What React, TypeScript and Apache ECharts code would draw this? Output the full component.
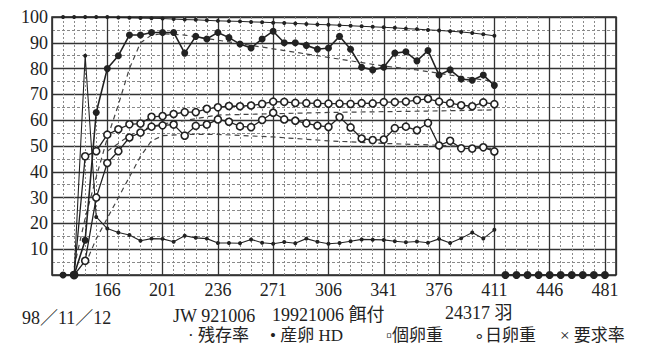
import React, { useEffect, useRef } from "react";
import * as echarts from "echarts";

// weekly ages (days)
const weekDays = [138,145,152,159,166,173,180,187,194,201,208,215,222,229,236,243,250,257,264,271,278,285,292,299,306,313,320,327,334,341,348,355,362,369,376,383,390,397,404,411];
// 残存率
const survival = [100,100,100,100,100,99.8,99.7,99.6,99.5,99.4,99.2,99,98.9,98.7,98.5,98.4,98.3,98.1,98,97.8,97.7,97.5,97.3,97.1,97,96.8,96.6,96.4,96.2,96,95.8,95.5,95.3,95,94.8,94.5,94.2,93.8,93.3,92.7];
// 産卵 HD
const henDay = [0,0,13.5,63,80,85,93,93,94,94,94,86,92.5,91.5,94,92,89.5,88,91.5,94.5,90,90,89,87.5,88,92.5,87.5,80.5,79.5,80.5,86,86.5,83,87,77.5,79.5,76,75.5,77.5,73.5];
// 個卵重
const eggWeight = [null,0,46,48,54.4,56.5,58.4,58.7,61.3,61.6,62.4,63.1,63.1,64.4,65,65.5,65.4,65.7,66.3,67.2,67.1,66.7,66.6,66.5,66.4,66.4,66.3,66.6,66.5,67,67,67.2,67.8,68.3,67.2,66.6,65.8,65.4,66.9,66.2];
// 日卵重
const eggMass = [null,0,5.5,30,43.4,48,53.3,55.2,57.5,58,58.3,54,57.8,58.3,60.3,59.4,57.6,57.3,60.1,62.9,60.3,59.8,58.8,57.9,57.4,61.2,57.2,52.9,52.3,52.5,56.9,57.5,56.1,58.9,50.2,52,49.1,49,49.5,47.9];
// 要求率
const feedRatio = [null,0,85,22.5,18,16.5,15.5,13.3,14.1,14,12.9,15.2,14.4,14.1,12.4,12.4,12.3,13.8,12.5,12.1,12.8,12.3,14.1,12.9,12.1,12.4,13.1,13.8,13.7,13.6,13.1,12.7,13,12.5,14,12.4,14.2,16.5,14.1,17.5];

// after depopulation
const postDays = [418,425,432,439,446,453,460,467,474,481];
const postValues = [0,0,0,0,0,0,0,0,0,0];

// standard curves (dashed)
const hdStdDays = [145,152,159,166,173,180,187,194,201,215,236,257,278,299,320,341,362,383,411];
const hdStd = [3,22,38,53,66,80,90,93,93.5,93,91,89,87,85,83,81,79.5,77.5,75];
const eggWtStdDays = [166,173,180,187,194,201,236,271,306,341,376,411];
const eggWtStd = [48,51,54,56,57.5,58.5,62,62.5,63,63.3,63.6,64];
const massStdDays = [152,159,166,173,180,187,194,201,215,236,271,306,341,376,411];
const massStd = [4,14,22,30,38,46,52,54,54.5,54.5,53.5,52,51,50.3,49];

const xMin = 131;
const xMax = 488;
const yTicks = [0,10,20,30,40,50,60,70,80,90,100];

const pairs = (days: number[], vals: (number | null)[]) =>
  days.map((d, i) => [d, vals[i]]).filter((p) => p[1] !== null);

const serif = '"Liberation Serif", "DejaVu Serif", serif';
const mixed = '"Liberation Serif", "Noto Sans CJK JP", serif';
const ink = "#222";

export default function App() {
  const ref = useRef<HTMLDivElement>(null);
  useEffect(() => {
    if (!ref.current) return;
    const chart = echarts.init(ref.current, null, { renderer: "svg" });
    const lineBase = { type: "line", xAxisIndex: 1, yAxisIndex: 0, z: 5 };
    const openCircle = {
      symbol: "circle",
      symbolSize: 7,
      itemStyle: { color: "#fff", borderColor: ink, borderWidth: 1.6 },
      lineStyle: { color: ink, width: 1.3 },
    };
    const dashed = {
      ...lineBase,
      showSymbol: false,
      symbol: "none",
      lineStyle: { color: "#444", width: 1.2, type: [5, 4] },
      z: 4,
    };
    const option = {
      animation: false,
      backgroundColor: "#fff",
      grid: {
        left: 52,
        right: 29,
        top: 17,
        bottom: 69,
        show: true,
        borderColor: ink,
        borderWidth: 1.5,
      },
      xAxis: [
        {
          type: "value",
          position: "bottom",
          min: xMin,
          max: xMax,
          interval: 7,
          axisLine: { show: false },
          axisTick: { show: false },
          axisLabel: { show: false },
          splitLine: { show: true, lineStyle: { color: "#8a8a8a", width: 1, type: [2, 2] } },
        },
        {
          type: "value",
          position: "bottom",
          min: xMin,
          max: xMax,
          interval: 35,
          axisLine: { show: false },
          axisTick: { show: false },
          axisLabel: {
            formatter: (v: number) => (v === xMin || v === xMax ? "" : String(v)),
            fontSize: 18,
            fontFamily: serif,
            color: ink,
            margin: 6,
          },
          splitLine: { show: true, lineStyle: { color: "#333", width: 1.3 } },
        },
      ],
      yAxis: [
        {
          type: "value",
          min: yTicks[0],
          max: yTicks[yTicks.length - 1],
          interval: 10,
          axisLine: { show: false },
          axisTick: { show: false },
          axisLabel: {
            formatter: (v: number) => (v === 0 ? "" : String(v)),
            fontSize: 18,
            fontFamily: serif,
            color: ink,
            margin: 4,
          },
          splitLine: { show: true, lineStyle: { color: "#333", width: 1.3 } },
          minorTick: { show: false, splitNumber: 2 },
          minorSplitLine: { show: true, lineStyle: { color: "#8a8a8a", width: 1, type: [3, 2] } },
        },
      ],
      series: [
        { ...dashed, name: "HD標準", data: pairs(hdStdDays, hdStd) },
        { ...dashed, name: "個卵重標準", data: pairs(eggWtStdDays, eggWtStd) },
        { ...dashed, name: "日卵重標準", data: pairs(massStdDays, massStd) },
        {
          ...lineBase,
          name: "残存率",
          data: pairs(weekDays, survival),
          symbol: "circle",
          symbolSize: 4,
          itemStyle: { color: ink },
          lineStyle: { color: ink, width: 1 },
        },
        {
          ...lineBase,
          name: "要求率",
          data: pairs(weekDays, feedRatio),
          symbol: "circle",
          symbolSize: 4,
          itemStyle: { color: ink },
          lineStyle: { color: ink, width: 1.1 },
        },
        { ...lineBase, ...openCircle, name: "個卵重", data: pairs(weekDays, eggWeight) },
        { ...lineBase, ...openCircle, name: "日卵重", data: pairs(weekDays, eggMass) },
        {
          ...lineBase,
          name: "産卵 HD",
          data: pairs(weekDays, henDay),
          symbol: "circle",
          symbolSize: 7,
          itemStyle: { color: ink },
          lineStyle: { color: ink, width: 1.6 },
          z: 6,
        },
        {
          ...lineBase,
          name: "産卵 HD後",
          data: pairs(postDays, postValues),
          symbol: "circle",
          symbolSize: 8,
          itemStyle: { color: ink },
          lineStyle: { color: ink, width: 1.5 },
          z: 6,
        },
      ],
      graphic: [
        { type: "text", x: 22, y: 318, style: { text: "98／11／12", font: `18px ${mixed}`, fill: ink, verticalAlign: "middle" } },
        { type: "text", x: 173, y: 316, style: { text: "JW 921006", font: `18px ${mixed}`, fill: ink, verticalAlign: "middle" } },
        { type: "text", x: 272, y: 315, style: { text: "19921006 餌付", font: `18px ${mixed}`, fill: ink, verticalAlign: "middle" } },
        { type: "text", x: 445, y: 313, style: { text: "24317 羽", font: `18px ${mixed}`, fill: ink, verticalAlign: "middle" } },
        { type: "text", x: 188, y: 335, style: { text: "· 残存率", font: `17px ${mixed}`, fill: ink, verticalAlign: "middle" } },
        { type: "text", x: 270, y: 335, style: { text: "• 産卵 HD", font: `17px ${mixed}`, fill: ink, verticalAlign: "middle" } },
        { type: "text", x: 386, y: 335, style: { text: "▫個卵重", font: `17px ${mixed}`, fill: ink, verticalAlign: "middle" } },
        { type: "text", x: 474, y: 335, style: { text: "∘日卵重", font: `17px ${mixed}`, fill: ink, verticalAlign: "middle" } },
        { type: "text", x: 560, y: 335, style: { text: "× 要求率", font: `17px ${mixed}`, fill: ink, verticalAlign: "middle" } },
      ],
    };
    chart.setOption(option as any);
    return () => chart.dispose();
  }, []);
  return (
    <div
      ref={ref}
      style={{ position: "fixed", left: 0, top: 0, width: 645, height: 344, background: "#fff" }}
    />
  );
}
